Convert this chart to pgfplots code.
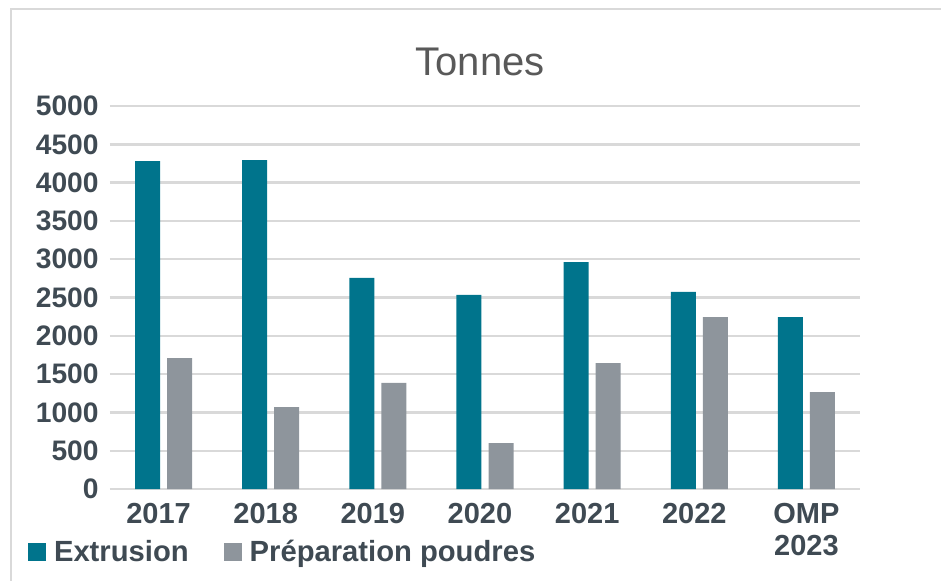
\documentclass[border=0pt]{standalone}
\usepackage{fontspec}
\setmainfont{Liberation Sans}
\usepackage{pgfplots}
\pgfplotsset{compat=1.18}
\definecolor{teal1}{HTML}{00748C}
\definecolor{gray1}{HTML}{8E959C}
\definecolor{gridc}{HTML}{D9D9D9}
\definecolor{textc}{HTML}{3F4A53}
\definecolor{titlec}{HTML}{595959}
\begin{document}
\begin{tikzpicture}
\useasboundingbox (-55pt,-45.5pt) rectangle (415.5pt,244.5pt);
\draw[gridc, line width=0.8pt] (-49.5pt,-46pt) -- (-49.5pt,240pt) -- (416pt,240pt);
\node[anchor=base, font=\fontsize{20}{24}\selectfont, text=titlec] at (185pt,207pt) {Tonnes};
\begin{axis}[
  width=375pt, height=191.5pt, scale only axis,
  ybar=3.5pt, bar width=12.5pt,
  xmin=-0.5, xmax=6.5, ymin=0, ymax=5000,
  xtick=data,
  xticklabels={\hspace*{-5pt}2017,\hspace*{-5pt}2018,\hspace*{-5pt}2019,\hspace*{-5pt}2020,\hspace*{-5pt}2021,\hspace*{-5pt}2022,{OMP\\2023}},
  ytick={0,500,...,5000},
  ymajorgrids,
  major grid style={color=gridc, line width=1.2pt},
  axis line style={draw=none},
  major tick length=0pt,
  /pgf/number format/assume math mode=true,
  /pgf/number format/.cd, 1000 sep={}, /pgfplots/.cd,
  yticklabel style={font=\fontsize{14.1}{16}\selectfont\bfseries, text=textc, anchor=east, inner sep=0pt, xshift=-5.5pt},
  xticklabel style={font=\fontsize{14.5}{16}\selectfont\bfseries, text=textc, anchor=north, inner sep=0pt, yshift=-7pt, align=center},
  legend columns=2,
  legend style={at={(axis description cs:-0.1093,-0.1645)}, anchor=west, draw=none, fill=none,
    inner sep=0pt, outer sep=0pt,
    font=\fontsize{14.6}{16}\selectfont\bfseries, text=textc,
    nodes={inner sep=0pt},
    /tikz/every even column/.append style={column sep=17.5pt}},
  legend cell align=left,
  legend image code/.code={\fill[#1] (0pt,-4.5pt) rectangle (9pt,4.5pt); \path (13pt,0pt);},
]
\addplot[fill=teal1, draw=none] coordinates {(0,4282) (1,4295) (2,2755) (3,2533) (4,2963) (5,2572) (6,2245)};
\addplot[fill=gray1, draw=none] coordinates {(0,1710) (1,1070) (2,1384) (3,600) (4,1645) (5,2245) (6,1266)};
\legend{Extrusion, Préparation poudres}
\end{axis}
\end{tikzpicture}
\end{document}
